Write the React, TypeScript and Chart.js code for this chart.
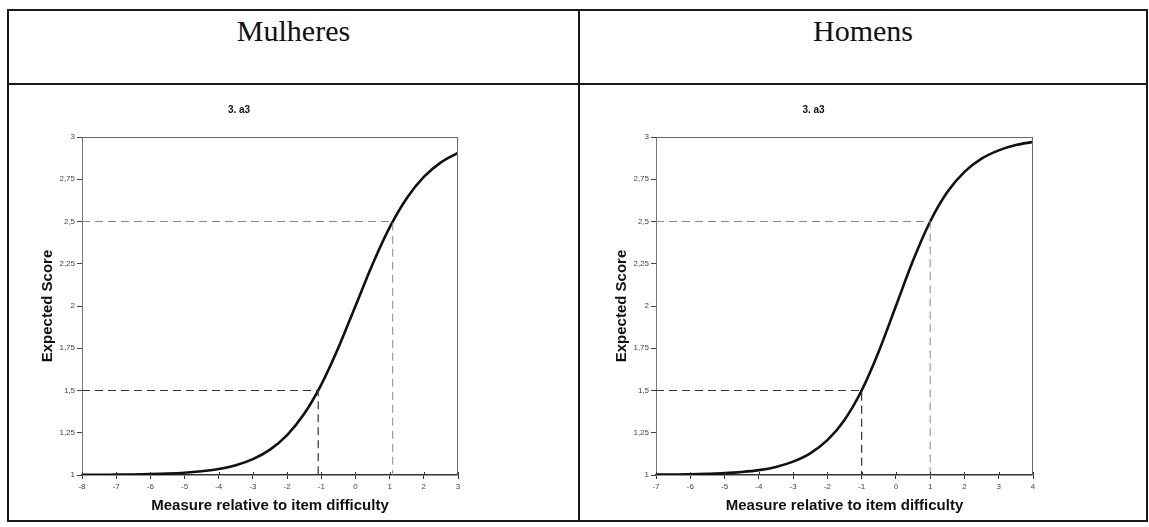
import React, { useEffect, useRef } from 'react';
import { Chart, registerables } from 'chart.js';

Chart.register(...registerables);

// ---- Data ----
const headers = ['Mulheres', 'Homens'];
const chartTitle = '3. a3';
const xAxisTitle = 'Measure relative to item difficulty';
const yAxisTitle = 'Expected Score';

const yMin = 1;
const yMax = 3;
const yStep = 0.25;

const womenXRange = [-8, 3];
const womenX = [-8, -7.5, -7, -6.5, -6, -5.5, -5, -4.5, -4, -3.5, -3, -2.5, -2, -1.5, -1, -0.5, 0, 0.5, 1, 1.5, 2, 2.5, 3];
const womenY = [1.001, 1.001, 1.002, 1.003, 1.005, 1.008, 1.013, 1.022, 1.035, 1.058, 1.094, 1.15, 1.236, 1.362, 1.535, 1.753, 2.0, 2.247, 2.465, 2.638, 2.764, 2.85, 2.906];
const womenLowX = -1.09;
const womenHighX = 1.09;

const menXRange = [-7, 4];
const menX = [-7, -6.5, -6, -5.5, -5, -4.5, -4, -3.5, -3, -2.5, -2, -1.5, -1, -0.5, 0, 0.5, 1, 1.5, 2, 2.5, 3, 3.5, 4];
const menY = [1.002, 1.002, 1.004, 1.007, 1.011, 1.018, 1.029, 1.048, 1.079, 1.128, 1.206, 1.326, 1.5, 1.731, 2.0, 2.269, 2.5, 2.674, 2.794, 2.872, 2.921, 2.952, 2.971];
const menLowX = -1;
const menHighX = 1;

const lowScore = 1.5;
const highScore = 2.5;

const FONT = '"Liberation Sans", Arial, sans-serif';

const framePlugin = {
  id: 'frame',
  afterDatasetsDraw(chart: any) {
    const { ctx, chartArea: a } = chart;
    ctx.save();
    ctx.strokeStyle = '#6a6a6a';
    ctx.lineWidth = 1;
    ctx.beginPath();
    ctx.moveTo(a.left, a.top + 0.5);
    ctx.lineTo(a.right, a.top + 0.5);
    ctx.moveTo(a.right - 0.5, a.top);
    ctx.lineTo(a.right - 0.5, a.bottom);
    ctx.stroke();
    // cross tick marks on x axis (inside part)
    const xs = chart.scales.x;
    ctx.strokeStyle = '#333';
    ctx.beginPath();
    xs.ticks.forEach((t: any) => {
      const px = Math.round(xs.getPixelForValue(t.value)) + 0.5;
      ctx.moveTo(px, a.bottom - 3);
      ctx.lineTo(px, a.bottom);
    });
    ctx.stroke();
    ctx.restore();
  },
};

type PanelProps = {
  xs: number[];
  ys: number[];
  xRange: number[];
  lowX: number;
  highX: number;
  left: number;
  width: number;
};

function Panel({ xs, ys, xRange, lowX, highX, left, width }: PanelProps) {
  const ref = useRef<HTMLCanvasElement | null>(null);
  useEffect(() => {
    if (!ref.current) return;
    const curve = xs.map((x, i) => ({ x, y: ys[i] }));
    const lowRef = [
      { x: xRange[0], y: lowScore },
      { x: lowX, y: lowScore },
      { x: lowX, y: yMin },
    ];
    const highRef = [
      { x: xRange[0], y: highScore },
      { x: highX, y: highScore },
      { x: highX, y: yMin },
    ];
    const chart = new Chart(ref.current, {
      type: 'line',
      data: {
        datasets: [
          {
            data: lowRef,
            borderColor: '#333',
            borderWidth: 1.2,
            borderDash: [8, 5],
            pointRadius: 0,
            tension: 0,
          },
          {
            data: highRef,
            borderColor: '#888',
            borderWidth: 1,
            borderDash: [8, 5],
            pointRadius: 0,
            tension: 0,
          },
          {
            data: curve,
            borderColor: '#111',
            borderWidth: 2.6,
            pointRadius: 0,
            cubicInterpolationMode: 'monotone',
          },
        ],
      },
      options: {
        responsive: false,
        animation: false,
        layout: { padding: { left: 0, right: 22, top: 0, bottom: 0 } },
        plugins: {
          legend: { display: false },
          tooltip: { enabled: false },
          title: {
            display: true,
            text: chartTitle,
            color: '#111',
            font: { family: FONT, size: 10, weight: 'bold', lineHeight: 1.2 },
            padding: { top: 9, bottom: 21 },
          },
        },
        scales: {
          x: {
            type: 'linear',
            min: xRange[0],
            max: xRange[1],
            afterFit: (s: any) => {
              s.height = 45;
            },
            border: { color: '#333', width: 1.5 },
            grid: { drawOnChartArea: false, tickLength: 4, color: '#333' },
            ticks: {
              stepSize: 1,
              autoSkip: false,
              maxRotation: 0,
              padding: 3,
              color: '#444',
              font: { family: FONT, size: 8 },
              callback: (v: any) => String(v),
            },
            title: {
              display: true,
              text: xAxisTitle,
              color: '#111',
              font: { family: FONT, size: 15, weight: 'bold', lineHeight: 1.2 },
              padding: { top: 0, bottom: 5 },
            },
          },
          y: {
            type: 'linear',
            min: yMin,
            max: yMax,
            afterFit: (s: any) => {
              s.width = 62;
            },
            border: { color: '#777', width: 1 },
            grid: { drawOnChartArea: false, tickLength: 5, color: '#444' },
            ticks: {
              stepSize: yStep,
              padding: 2,
              color: '#444',
              font: { family: FONT, size: 8 },
              callback: (v: any) => String(v).replace('.', ','),
            },
            title: {
              display: true,
              text: yAxisTitle,
              color: '#111',
              font: { family: FONT, size: 15, weight: 'bold', lineHeight: 1.2 },
              padding: { top: 19, bottom: 0 },
            },
          },
        },
      },
      plugins: [framePlugin],
    } as any);
    return () => chart.destroy();
  }, []);
  return (
    <canvas
      ref={ref}
      width={width}
      height={425}
      style={{ position: 'absolute', left, top: 95, width, height: 425 }}
    />
  );
}

const line = '#1a1a1a';
const headerStyle = {
  position: 'absolute' as const,
  top: 16,
  textAlign: 'center' as const,
  fontFamily: '"Liberation Serif", "Times New Roman", serif',
  fontSize: 30,
  lineHeight: 1,
  color: '#111',
};

export default function App() {
  return (
    <div style={{ position: 'absolute', left: 0, top: 0, width: 1149, height: 527, background: '#fff', overflow: 'hidden' }}>
      {/* table borders */}
      <div style={{ position: 'absolute', left: 7, top: 9, width: 1141, height: 2, background: line }} />
      <div style={{ position: 'absolute', left: 7, top: 83, width: 1141, height: 2, background: line }} />
      <div style={{ position: 'absolute', left: 7, top: 520, width: 1141, height: 2, background: line }} />
      <div style={{ position: 'absolute', left: 7, top: 9, width: 2, height: 513, background: line }} />
      <div style={{ position: 'absolute', left: 578, top: 9, width: 2, height: 513, background: line }} />
      <div style={{ position: 'absolute', left: 1146, top: 9, width: 2, height: 513, background: line }} />
      {/* headers */}
      <div style={{ ...headerStyle, left: 9, width: 569 }}>{headers[0]}</div>
      <div style={{ ...headerStyle, left: 580, width: 566 }}>{headers[1]}</div>
      <Panel xs={womenX} ys={womenY} xRange={womenXRange} lowX={womenLowX} highX={womenHighX} left={20} width={460} />
      <Panel xs={menX} ys={menY} xRange={menXRange} lowX={menLowX} highX={menHighX} left={594} width={461} />
    </div>
  );
}
